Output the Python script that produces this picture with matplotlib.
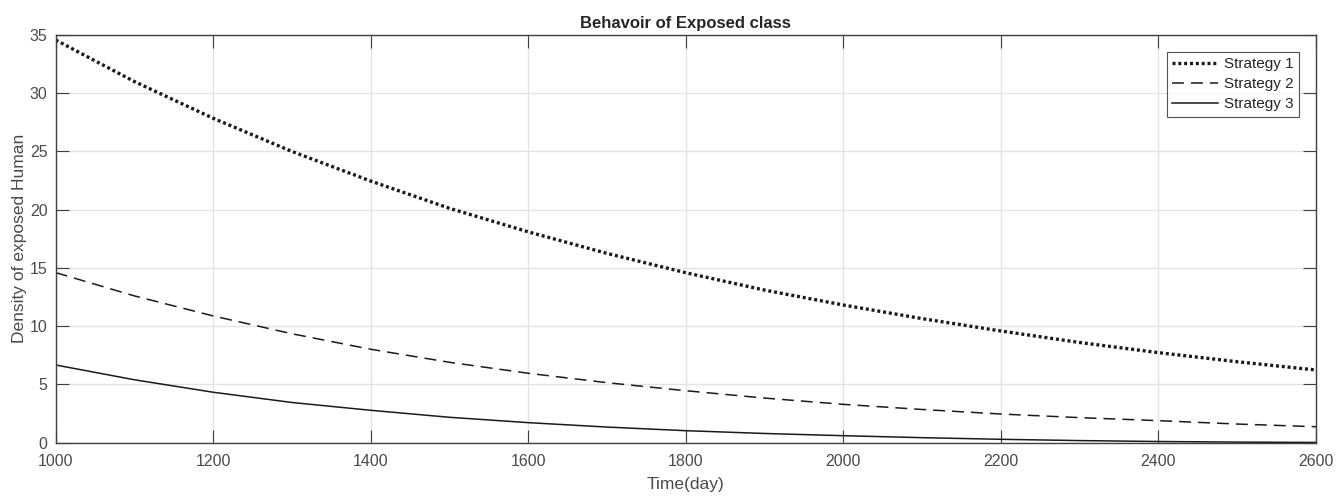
import matplotlib
matplotlib.use('Agg')
import matplotlib.pyplot as plt

plt.rcParams['font.family'] = ['Liberation Sans', 'DejaVu Sans']

# time in days and density of exposed humans for each strategy
days = [1000, 1100, 1200, 1300, 1400, 1500, 1600, 1700, 1800,
        1900, 2000, 2100, 2200, 2300, 2400, 2500, 2600]
strategy1 = [34.57, 31.0, 27.85, 25.0, 22.46, 20.12, 18.1, 16.25, 14.59,
             13.1, 11.82, 10.65, 9.59, 8.6, 7.73, 6.95, 6.24]
strategy2 = [14.6, 12.6, 10.88, 9.35, 8.02, 6.9, 5.96, 5.15, 4.46,
             3.83, 3.29, 2.85, 2.46, 2.15, 1.89, 1.6, 1.37]
strategy3 = [6.67, 5.4, 4.33, 3.45, 2.78, 2.18, 1.72, 1.34, 1.03,
             0.79, 0.6, 0.43, 0.29, 0.18, 0.1, 0.05, 0.02]

xticks = [1000, 1200, 1400, 1600, 1800, 2000, 2200, 2400, 2600]
yticks = [0, 5, 10, 15, 20, 25, 30, 35]

axcol = '#404040'
txtcol = '#4a4a4a'

fig = plt.figure(figsize=(13.36, 4.96), dpi=100)
ax = fig.add_axes([0.0417, 0.1075, 0.9433, 0.8219])

ax.plot(days, strategy1, color='#1a1a1a', lw=2.4, linestyle=(0, (0.9, 0.85)), label='Strategy 1')
ax.plot(days, strategy2, color='#1a1a1a', lw=1.1, linestyle=(0, (7.8, 4.6)), label='Strategy 2')
ax.plot(days, strategy3, color='#1a1a1a', lw=1.1, linestyle='-', label='Strategy 3')

ax.set_xlim(1000, 2600)
ax.set_ylim(0, 35)
ax.set_xticks(xticks)
ax.set_yticks(yticks)

ax.grid(True, color='#e3e3e3', lw=1.0)
ax.set_axisbelow(True)

ax.tick_params(direction='in', length=9.5, width=0.8, colors=axcol,
               labelcolor=txtcol, labelsize=11.5, top=True, right=True)
ax.tick_params(axis='x', pad=8)
ax.tick_params(axis='y', pad=6)
for s in ax.spines.values():
    s.set_color(axcol)
    s.set_linewidth(1.0)

ax.set_title('Behavoir of Exposed class', fontsize=12, fontweight='bold', color='#262626', pad=5)
ax.set_xlabel('Time(day)', fontsize=12.5, color=txtcol, labelpad=6)
ax.set_ylabel('Density of exposed Human', fontsize=12.5, color=txtcol, labelpad=2)

leg = ax.legend(loc='upper right', fontsize=11, frameon=True, fancybox=False,
                edgecolor='#262626', handlelength=3.0, handletextpad=0.4,
                borderpad=0.35, labelspacing=0.4, borderaxespad=1.1)
leg.get_frame().set_linewidth(0.8)
for t in leg.get_texts():
    t.set_color('#262626')

plt.savefig('out.png', dpi=100)
